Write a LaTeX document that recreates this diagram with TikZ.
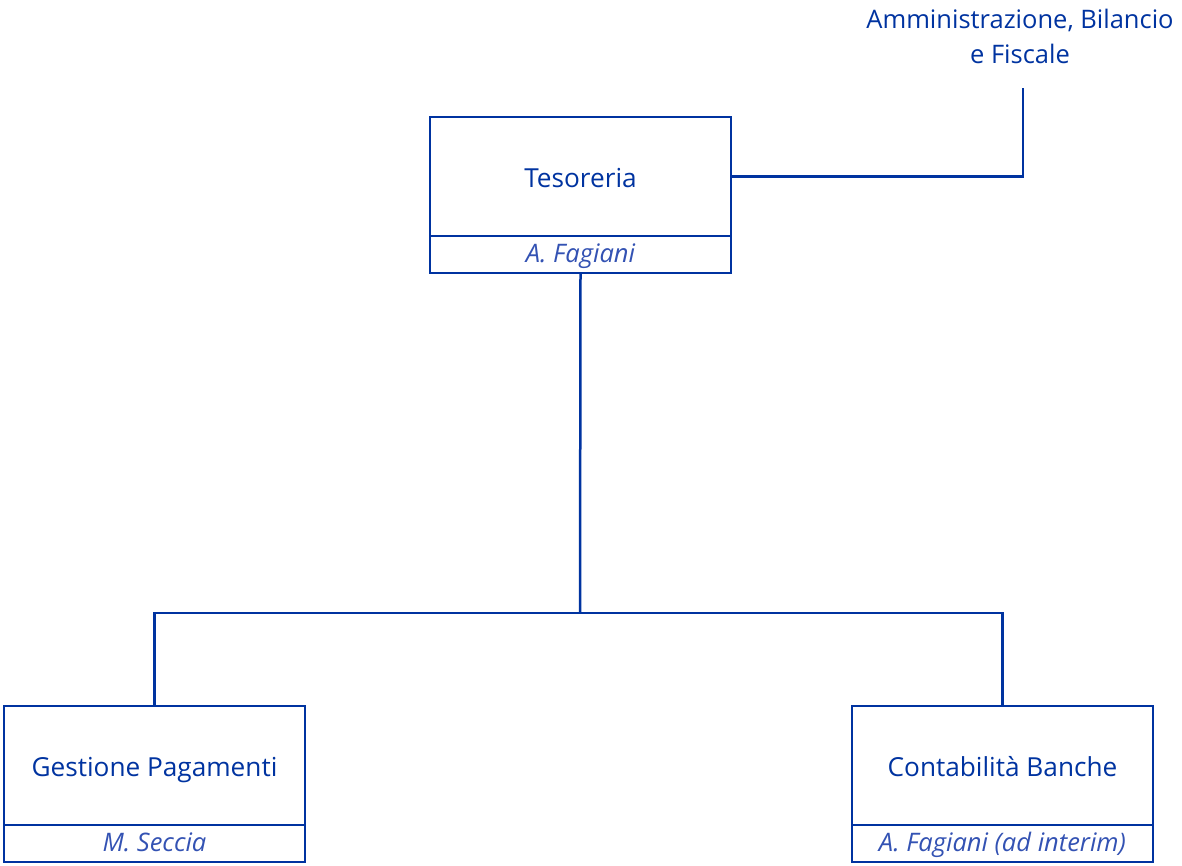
\documentclass[tikz,border=0pt]{standalone}
\usepackage{fontspec}
\setmainfont{Open Sans}
\definecolor{orgblue}{HTML}{0033A0}
\definecolor{nameblue}{HTML}{3352B3}
\begin{document}
\begin{tikzpicture}[x=1pt,y=-1pt,
  unitbox/.style={draw=orgblue,line width=2.5pt,rectangle,outer sep=0pt,minimum width=301pt,minimum height=119pt,inner sep=0pt,text=orgblue,font=\fontsize{26.2}{30}\selectfont,text height=22pt,text depth=0pt},
  namebox/.style={draw=orgblue,line width=2.5pt,rectangle,outer sep=0pt,minimum width=301pt,minimum height=37pt,inner sep=0pt,text=nameblue,font=\fontsize{25.5}{28}\selectfont\itshape,text height=19pt,text depth=3pt},
  link/.style={draw=orgblue,line width=2.5pt},
  lbl/.style={text=orgblue,align=center,font=\fontsize{25.5}{35}\selectfont,inner sep=0pt}]
\useasboundingbox (0,0) rectangle (1182,866);
% top unit
\node[unitbox,anchor=north west] (tes) at (430,117) {Tesoreria};
\node[namebox,anchor=north west] (tesn) at (430,236) {A. Fagiani};
% parent label
\node[lbl] (amm) at (1020,36) {Amministrazione, Bilancio\\e Fiscale};
\coordinate (ammend) at (1023,88);
% bottom units
\node[unitbox,anchor=north west] (gp) at (4,706) {Gestione Pagamenti};
\node[namebox,anchor=north west] (gpn) at (4,825) {M. Seccia};
\node[unitbox,anchor=north west] (cb) at (852,706) {Contabilità Banche};
\node[namebox,anchor=north west] (cbn) at (852,825) {A. Fagiani (ad interim)};
% connectors
\coordinate (j) at (580,613);
\draw[link] (tes.east) -| (ammend);
\draw[link] (tesn.south) -- (j);
\draw[link] (gp.north) |- (j) -| (cb.north);
\end{tikzpicture}
\end{document}
